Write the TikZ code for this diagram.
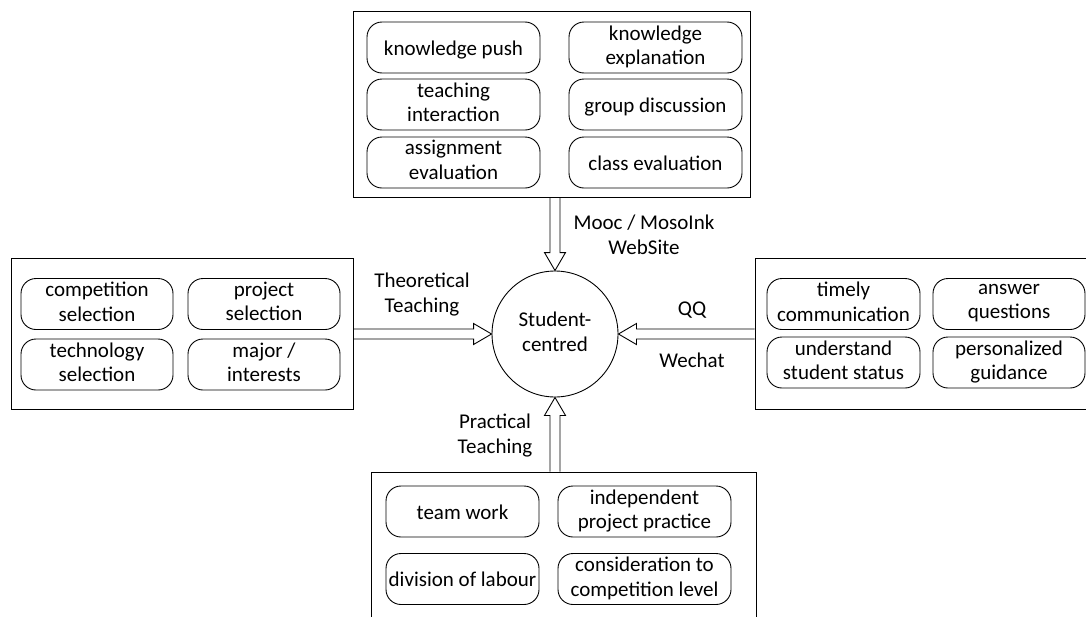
\documentclass[tikz,border=0pt]{standalone}
\usepackage{fontspec}
\setmainfont{Carlito}
\usetikzlibrary{calc}
\newcommand{\mystrutA}{\rule[-5pt]{0pt}{25pt}}
\tikzset{
  outerbox/.style={draw, line width=1pt, inner sep=0pt},
  item/.style={draw, line width=0.9pt, rounded corners=15pt, inner sep=0pt,
    minimum height=51pt, align=center, font=\fontsize{21}{24.5}\selectfont,
    execute at begin node={\mystrutA}, execute at end node={\mystrutA}},
  lbl/.style={align=center, inner sep=0pt, font=\fontsize{21}{25}\selectfont,
    execute at begin node={\mystrutA}, execute at end node={\mystrutA}},
  harrow/.style={draw, line width=0.9pt, line join=miter},
}
\newcommand{\hollowarrow}[2]{%
  \draw[harrow] ($(#1)!5pt!90:(#2)$)
    -- ($($(#2)!18pt!(#1)$)!5pt!90:(#2)$)
    -- ($($(#2)!18pt!(#1)$)!10.5pt!90:(#2)$)
    -- (#2)
    -- ($($(#2)!18pt!(#1)$)!10.5pt!-90:(#2)$)
    -- ($($(#2)!18pt!(#1)$)!5pt!-90:(#2)$)
    -- ($(#1)!5pt!-90:(#2)$);}
\begin{document}
\begin{tikzpicture}[x=1pt,y=-1pt]
\useasboundingbox (0,0) rectangle (1086,616);
\clip (0,0) rectangle (1086,616);
\fill[white] (0,0) rectangle (1086,616);

% outer boxes
\node[outerbox, minimum width=397pt, minimum height=186pt] (top) at (551.5,104) {};
\node[outerbox, minimum width=342pt, minimum height=151pt] (left) at (182,333.5) {};
\node[outerbox, minimum width=342pt, minimum height=151pt] (right) at (926,333.5) {};
\node[outerbox, minimum width=385pt, minimum height=153pt] (bottom) at (563.5,548.5) {};

% top items
\node[item, minimum width=173pt] (t1) at (453.5,47.5) {knowledge push};
\node[item, minimum width=173pt] (t2) at (655.5,47.5) {knowledge\\explanation};
\node[item, minimum width=173pt] (t3) at (453.5,104.5) {teaching\\interaction};
\node[item, minimum width=173pt] (t4) at (655.5,104.5) {group discussion};
\node[item, minimum width=173pt] (t5) at (453.5,162.5) {assignment\\evaluation};
\node[item, minimum width=173pt] (t6) at (655.5,162.5) {class evaluation};

% left items
\node[item, minimum width=152pt] (l1) at (97,304) {competition\\selection};
\node[item, minimum width=152pt] (l2) at (264,304) {project\\selection};
\node[item, minimum width=152pt] (l3) at (97,364.5) {technology\\selection};
\node[item, minimum width=152pt] (l4) at (264,364.5) {major /\\interests};

% right items
\node[item, minimum width=153pt] (r1) at (843.5,304) {timely\\communication};
\node[item, minimum width=152pt] (r2) at (1009,304) {answer\\questions};
\node[item, minimum width=153pt] (r3) at (843.5,362.5) {understand\\student status};
\node[item, minimum width=152pt] (r4) at (1009,362.5) {personalized\\guidance};

% bottom items
\node[item, minimum width=153pt] (b1) at (462.5,511.5) {team work};
\node[item, minimum width=173pt] (b2) at (644.5,511.5) {independent\\project practice};
\node[item, minimum width=153pt] (b3) at (462.5,579) {division of labour};
\node[item, minimum width=173pt] (b4) at (644.5,579) {consideration to\\competition level};

% centre
\node[draw, circle, line width=0.9pt, minimum size=126pt, inner sep=0pt, lbl] (circ) at (555,334) {Student-\\centred};

% arrows
\coordinate (ta) at (circ.north |- top.south);
\coordinate (la) at (left.east |- circ.west);
\coordinate (ra) at (right.west |- circ.east);
\coordinate (ba) at (circ.south |- bottom.north);
\hollowarrow{ta}{circ.north}
\hollowarrow{la}{circ.west}
\hollowarrow{ra}{circ.east}
\hollowarrow{ba}{circ.south}

% labels
\node[lbl] (lm) at (644,237.5) {Mooc / MosoInk\\WebSite};
\node[lbl] (lt) at (422,295) {Theoretical\\Teaching};
\node[lbl] (lq) at (692,308) {QQ};
\node[lbl] (lw) at (692,360) {Wechat};
\node[lbl] (lp) at (495,436.5) {Practical\\Teaching};
\end{tikzpicture}
\end{document}
